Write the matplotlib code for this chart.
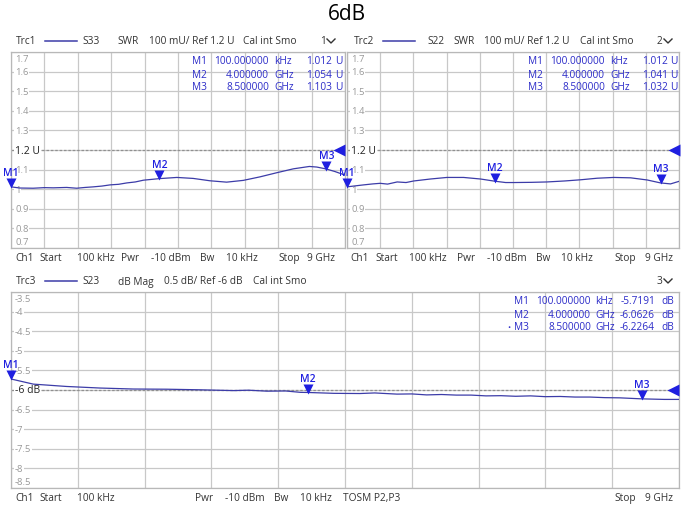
import numpy as np
import matplotlib.pyplot as plt
import matplotlib.transforms as mtrans
from matplotlib.lines import Line2D

# trace data (GHz, value)
f1 = [0, 0.24, 0.6, 0.9, 1.14, 1.5, 1.77, 2.0, 2.22, 2.45, 2.67, 2.9, 3.12, 3.35, 3.57, 4.0,
      4.47, 4.91, 5.36, 5.81, 6.26, 6.71, 7.16, 7.61, 8.04, 8.24, 8.5, 8.73, 9.0]
s33 = [1.012, 1.006, 1.005, 1.008, 1.007, 1.009, 1.005, 1.009, 1.012, 1.016, 1.022, 1.025, 1.032,
       1.037, 1.046, 1.054, 1.060, 1.055, 1.043, 1.036, 1.045, 1.063, 1.084, 1.104, 1.116, 1.113,
       1.103, 1.090, 1.072]

f2 = [0, 0.45, 0.7, 0.9, 1.1, 1.36, 1.6, 1.81, 2.26, 2.71, 3.16, 3.62, 4.0, 4.3, 4.52, 5.0,
      5.42, 5.9, 6.33, 6.78, 7.23, 7.69, 8.14, 8.5, 8.77, 9.0]
s22 = [1.012, 1.022, 1.027, 1.030, 1.026, 1.037, 1.034, 1.042, 1.052, 1.060, 1.060, 1.052,
       1.041, 1.034, 1.034, 1.035, 1.037, 1.042, 1.048, 1.056, 1.060, 1.058, 1.047, 1.032,
       1.027, 1.040]

f3 = [0, 0.3, 0.75, 1.2, 1.65, 2.1, 2.55, 3.0, 3.2, 3.45, 3.7, 3.9, 4.0, 4.35, 4.7, 4.9, 5.0,
      5.2, 5.4, 5.6, 5.8, 6.0, 6.2, 6.4, 6.6, 6.8, 7.0, 7.2, 7.4, 7.6, 7.8, 8.0, 8.2, 8.5, 8.8, 9.0]
s23 = [-5.719, -5.85, -5.91, -5.95, -5.975, -5.98, -5.995, -6.015, -6.005, -6.03, -6.025, -6.06,
       -6.063, -6.085, -6.09, -6.075, -6.085, -6.105, -6.10, -6.125, -6.115, -6.13, -6.13,
       -6.15, -6.145, -6.16, -6.15, -6.17, -6.165, -6.18, -6.18, -6.195, -6.20, -6.226,
       -6.24, -6.24]

mk_f = [0.0001, 4.0, 8.5]
mk_names = ['M1', 'M2', 'M3']
mk_freq_txt = ['100.000000', '4.000000', '8.500000']
mk_unit = ['kHz', 'GHz', 'GHz']
mk1 = [1.012, 1.054, 1.103]
mk2 = [1.012, 1.041, 1.032]
mk3 = [-5.7191, -6.0626, -6.2264]

W, H = 694, 510
FONT = 'Open Sans'
FS = 7.3
TRACE = '#3c3ca8'
MARK = '#1f1fe0'
READ = '#2b2bc8'
GRID = '#c8c8c8'
TXT = '#333333'

fig = plt.figure(figsize=(W / 100, H / 100), dpi=100)
plt.rcParams['font.family'] = [FONT, 'DejaVu Sans']


def off(ax, dx, dy):
    # shift by pixels
    return ax.transData + mtrans.ScaledTranslation(dx / 100, dy / 100, fig.dpi_scale_trans)


def ftext(x, y, s, **kw):
    kw.setdefault('fontsize', FS)
    kw.setdefault('color', TXT)
    kw.setdefault('va', 'center')
    return fig.text(x / W, 1 - y / H, s, **kw)


def make_ax(l, t, r, b, ylo, yhi, ref, yticks, ylabels):
    ax = fig.add_axes([l / W, 1 - b / H, (r - l) / W, (b - t) / H])
    ax.set_xlim(0, 9)
    ax.set_ylim(ylo, yhi)
    ax.set_xticks(np.linspace(0, 9, 11))
    ax.set_yticks(yticks)
    ax.grid(True, color=GRID, lw=0.9)
    ax.tick_params(left=False, bottom=False, labelleft=False, labelbottom=False)
    for s in ax.spines.values():
        s.set_color('#b8b8b8')
        s.set_linewidth(0.9)
    ax.axhline(ref, color='#909090', lw=0.9, ls=(0, (2, 1.5)), zorder=2)
    tr = ax.get_yaxis_transform()
    n = len(yticks)
    span = yhi - ylo
    for i, (v, lab) in enumerate(zip(yticks, ylabels)):
        y = v
        if i == n - 1:
            y = v - 0.035 * span
        if i == 0:
            y = v + 0.035 * span
        isref = abs(v - ref) < 1e-9
        ax.text(0.012 * 334 / (r - l), y, lab, transform=tr, va='center', ha='left',
                fontsize=7.5 if isref else 6.8, color='#222222' if isref else '#999999',
                zorder=3, bbox=dict(fc='white', ec='none', pad=0.6))
    # reference arrow at right edge
    ax.plot([9], [ref], marker='<', ms=8.5, color=MARK, mec='none', clip_on=False, zorder=5,
            transform=off(ax, -5.5, 0))
    return ax


def markers(ax, vals):
    for name, f, v in zip(mk_names, mk_f, vals):
        ax.plot([f], [v], marker='v', ms=7.5, color=MARK, mec='none', clip_on=False, zorder=6,
                transform=off(ax, 0, 3.5))
        ax.text(f, v, name, ha='center', va='center', fontsize=7.5, color=MARK,
                fontweight='semibold', clip_on=False, zorder=6, transform=off(ax, 0, 14))


def header(x0, y, trc, parts, num, numx):
    ftext(x0, y, trc)
    fig.add_artist(Line2D([(x0 + 29) / W, (x0 + 61) / W], [1 - y / H] * 2, color=TRACE, lw=1.1))
    for px_, s in parts:
        ftext(px_, y, s)
    ftext(numx, y, num)
    cx = numx + 7
    fig.add_artist(Line2D([cx / W, (cx + 4) / W, (cx + 8) / W],
                          [1 - (y - 2) / H, 1 - (y + 2) / H, 1 - (y - 2) / H], color=TXT, lw=1))


def readout(y0, cols, vals, unit, bullet=False):
    for i, name in enumerate(mk_names):
        y = y0 + 13 * i
        ftext(cols[0], y, name, color=READ)
        ftext(cols[1], y, mk_freq_txt[i], color=READ, ha='right')
        ftext(cols[2], y, mk_unit[i], color=READ)
        ftext(cols[3], y, vals[i], color=READ, ha='right')
        ftext(cols[4], y, unit, color=READ)
    if bullet:
        ftext(cols[0] - 7, y0 + 26, '•', color=READ, fontsize=6)


swr_ticks = [0.7, 0.8, 0.9, 1.0, 1.1, 1.2, 1.3, 1.4, 1.5, 1.6, 1.7]
swr_labels = ['0.7', '0.8', '0.9', '1', '1.1', '1.2 U', '1.3', '1.4', '1.5', '1.6', '1.7']
db_ticks = [-8.5, -8, -7.5, -7, -6.5, -6, -5.5, -5, -4.5, -4, -3.5]
db_labels = ['-8.5', '-8', '-7.5', '-7', '-6.5', '-6 dB', '-5.5', '-5', '-4.5', '-4', '-3.5']

ftext(W / 2, 15, '6dB', fontsize=15, color='black', ha='center')

# Trc1
ax1 = make_ax(11, 53, 345, 249, 0.7, 1.7, 1.2, swr_ticks, swr_labels)
ax1.plot(f1, s33, color=TRACE, lw=0.9, zorder=4)
markers(ax1, mk1)
header(16, 42, 'Trc1', [(82, 'S33'), (117, 'SWR'), (149, '100 mU/ Ref 1.2 U'), (243, 'Cal int Smo')],
       '1', 320)
readout(62, [192, 269, 274, 332, 335], ['1.012', '1.054', '1.103'], 'U')
for x, s in [(15, 'Ch1'), (39, 'Start'), (77, '100 kHz'), (121, 'Pwr'), (151, '-10 dBm'),
             (200, 'Bw'), (226, '10 kHz'), (278, 'Stop'), (307, '9 GHz')]:
    ftext(x, 259, s)

# Trc2
ax2 = make_ax(347, 53, 679, 249, 0.7, 1.7, 1.2, swr_ticks, swr_labels)
ax2.plot(f2, s22, color=TRACE, lw=0.9, zorder=4)
markers(ax2, mk2)
header(354, 42, 'Trc2', [(427, 'S22'), (453, 'SWR'), (484, '100 mU/ Ref 1.2 U'), (580, 'Cal int Smo')],
       '2', 657)
readout(62, [528, 605, 610, 668, 670], ['1.012', '1.041', '1.032'], 'U')
for x, s in [(350, 'Ch1'), (375, 'Start'), (409, '100 kHz'), (457, 'Pwr'), (487, '-10 dBm'),
             (536, 'Bw'), (561, '10 kHz'), (614, 'Stop'), (645, '9 GHz')]:
    ftext(x, 259, s)

# Trc3
ax3 = make_ax(11, 293, 679, 489, -8.5, -3.5, -6.0, db_ticks, db_labels)
ax3.plot(f3, s23, color=TRACE, lw=0.9, zorder=4)
markers(ax3, mk3)
header(16, 282, 'Trc3', [(82, 'S23'), (118, 'dB Mag'), (164, '0.5 dB/ Ref -6 dB'), (253, 'Cal int Smo')],
       '3', 657)
readout(302, [514, 591, 595, 655, 661], ['-5.7191', '-6.0626', '-6.2264'], 'dB', bullet=True)
for x, s in [(15, 'Ch1'), (39, 'Start'), (77, '100 kHz'), (195, 'Pwr'), (225, '-10 dBm'),
             (274, 'Bw'), (300, '10 kHz'), (343, 'TOSM P2,P3'), (614, 'Stop'), (645, '9 GHz')]:
    ftext(x, 499, s)

fig.savefig('out.png', dpi=100)
